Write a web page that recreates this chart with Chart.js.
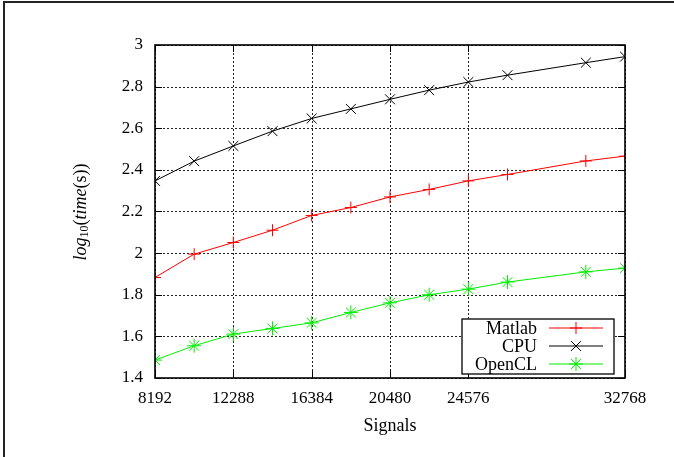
<!DOCTYPE html>
<html>
<head>
<meta charset="utf-8">
<script src="https://cdn.jsdelivr.net/npm/chart.js@4/dist/chart.umd.min.js"></script>
<style>
  html, body { margin: 0; padding: 0; background: #fff; }
  #wrap { position: relative; width: 674px; height: 457px; }
  #frame { position: absolute; left: 3px; top: 1px; right: -4px; bottom: -4px;
           border-top: 2px solid #222; border-left: 2px solid #222; pointer-events: none; }
</style>
</head>
<body>
<div id="wrap">
  <canvas id="chart" width="674" height="457"></canvas>
  <div id="frame"></div>
</div>
<script>
// data
const signals = [8192, 10240, 12288, 14336, 16384, 18432, 20480, 22528, 24576, 26624, 30720, 32768];
const matlab  = [1.883, 1.995, 2.051, 2.110, 2.181, 2.219, 2.270, 2.306, 2.347, 2.378, 2.443, 2.466];
const cpu     = [2.347, 2.442, 2.515, 2.586, 2.647, 2.693, 2.739, 2.783, 2.822, 2.855, 2.915, 2.944];
const opencl  = [1.486, 1.555, 1.611, 1.638, 1.665, 1.715, 1.761, 1.800, 1.827, 1.861, 1.910, 1.928];
const xTicks  = [8192, 12288, 16384, 20480, 24576, 32768];
const yTicks  = [1.4, 1.6, 1.8, 2, 2.2, 2.4, 2.6, 2.8, 3];

const FONT = "'Liberation Serif', 'DejaVu Serif', serif";

const series = [
  { label: "Matlab", values: matlab, color: "#ff0000", style: "cross", r: 6 },
  { label: "CPU",    values: cpu,    color: "#000000", style: "crossRot", r: 7 },
  { label: "OpenCL", values: opencl, color: "#00ee00", style: "star", r: 7 }
];

// dotted grid drawn by hand (under the lines)
const gridPlugin = {
  id: "dotGrid",
  beforeDatasetsDraw(chart) {
    const { ctx, chartArea: a, scales } = chart;
    ctx.save();
    ctx.strokeStyle = "#222";
    ctx.lineWidth = 1;
    ctx.setLineDash([2, 2]);
    ctx.beginPath();
    xTicks.forEach(v => {
      const x = Math.round(scales.x.getPixelForValue(v)) + 0.5;
      ctx.moveTo(x, a.top); ctx.lineTo(x, a.bottom);
    });
    yTicks.forEach(v => {
      const y = Math.round(scales.y.getPixelForValue(v)) + 0.5;
      ctx.moveTo(a.left, y); ctx.lineTo(a.right, y);
    });
    ctx.stroke();
    ctx.restore();
  }
};

// gnuplot-ish frame: solid border + inward tick marks on all sides
const framePlugin = {
  id: "frame",
  afterDatasetsDraw(chart) {
    const { ctx, chartArea: a, scales } = chart;
    ctx.save();
    ctx.strokeStyle = "#000";
    ctx.lineWidth = 1;
    ctx.beginPath();
    xTicks.forEach(v => {
      const x = Math.round(scales.x.getPixelForValue(v)) + 0.5;
      ctx.moveTo(x, a.bottom); ctx.lineTo(x, a.bottom - 7);
      ctx.moveTo(x, a.top); ctx.lineTo(x, a.top + 7);
    });
    yTicks.forEach(v => {
      const y = Math.round(scales.y.getPixelForValue(v)) + 0.5;
      ctx.moveTo(a.left, y); ctx.lineTo(a.left + 7, y);
      ctx.moveTo(a.right, y); ctx.lineTo(a.right - 7, y);
    });
    ctx.stroke();
    ctx.lineWidth = 1.6;
    ctx.strokeRect(a.left, a.top, a.right - a.left, a.bottom - a.top);
    ctx.restore();
  }
};

// legend box in lower right of the plot
const legendPlugin = {
  id: "boxLegend",
  afterDraw(chart) {
    const { ctx } = chart;
    const box = { x: 462, y: 319, w: 152, h: 55 };
    ctx.save();
    ctx.fillStyle = "#fff";
    ctx.fillRect(box.x, box.y, box.w, box.h);
    ctx.strokeStyle = "#000";
    ctx.lineWidth = 1.3;
    ctx.strokeRect(box.x, box.y, box.w, box.h);
    ctx.font = "18px " + FONT;
    ctx.textAlign = "right";
    ctx.textBaseline = "middle";
    series.forEach((s, i) => {
      const y = box.y + 9 + i * 18;
      ctx.fillStyle = "#000";
      ctx.fillText(s.label, 537, y + 1);
      ctx.strokeStyle = s.color;
      ctx.lineWidth = 1;
      ctx.beginPath();
      ctx.moveTo(549, y); ctx.lineTo(603, y);
      ctx.stroke();
      Chart.helpers.drawPoint(ctx, { pointStyle: s.style, radius: s.r, borderWidth: 1 }, 576, y);
    });
    ctx.restore();
  }
};

// y axis title with subscript and mixed italic
const yTitlePlugin = {
  id: "yTitle",
  afterDraw(chart) {
    const { ctx } = chart;
    const parts = [
      { t: "log", f: "italic 18px " + FONT, dy: 0 },
      { t: "10", f: "12px " + FONT, dy: 4 },
      { t: "(", f: "18px " + FONT, dy: 0 },
      { t: "time", f: "italic 18px " + FONT, dy: 0 },
      { t: "(s))", f: "18px " + FONT, dy: 0 }
    ];
    ctx.save();
    let total = 0;
    parts.forEach(p => { ctx.font = p.f; p.w = ctx.measureText(p.t).width; total += p.w; });
    ctx.translate(81, 212);
    ctx.rotate(-Math.PI / 2);
    ctx.fillStyle = "#000";
    ctx.textBaseline = "middle";
    ctx.textAlign = "left";
    let x = -total / 2;
    parts.forEach(p => { ctx.font = p.f; ctx.fillText(p.t, x, p.dy); x += p.w; });
    ctx.restore();
  }
};

new Chart(document.getElementById("chart"), {
  type: "line",
  data: {
    datasets: series.map(s => ({
      label: s.label,
      data: signals.map((x, i) => ({ x, y: s.values[i] })),
      borderColor: s.color,
      backgroundColor: s.color,
      borderWidth: 1,
      pointStyle: s.style,
      pointRadius: s.r,
      pointBorderWidth: 1,
      pointBorderColor: s.color,
      tension: 0,
      fill: false
    }))
  },
  options: {
    responsive: false,
    animation: false,
    layout: { padding: { top: 45, right: 49, left: 0, bottom: 18 } },
    plugins: {
      legend: { display: false },
      tooltip: { enabled: false }
    },
    scales: {
      x: {
        type: "linear",
        min: 8192,
        max: 32768,
        afterBuildTicks: scale => { scale.ticks = xTicks.map(v => ({ value: v })); },
        afterFit: scale => { scale.height = 61; },
        grid: { display: false, drawTicks: false },
        border: { display: false },
        ticks: { color: "#000", padding: 10, maxRotation: 0, autoSkip: false,
                 font: { family: FONT, size: 17 }, callback: v => String(v) },
        title: { display: true, text: "Signals", color: "#000", padding: { top: 2, bottom: 2 },
                 font: { family: FONT, size: 18 } }
      },
      y: {
        min: 1.4,
        max: 3,
        afterBuildTicks: scale => { scale.ticks = yTicks.map(v => ({ value: v })); },
        afterFit: scale => { scale.width = 155; },
        grid: { display: false, drawTicks: false },
        border: { display: false },
        ticks: { color: "#000", padding: 12, font: { family: FONT, size: 17 },
                 callback: v => String(parseFloat(v.toFixed(1))) }
      }
    }
  },
  plugins: [gridPlugin, framePlugin, legendPlugin, yTitlePlugin]
});
</script>
</body>
</html>
